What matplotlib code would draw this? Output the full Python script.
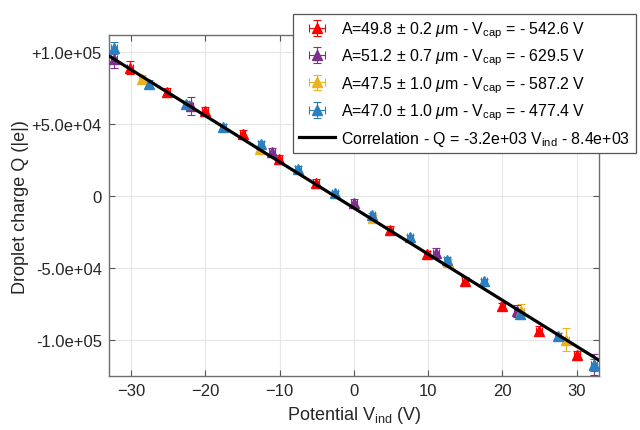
import matplotlib
matplotlib.use("Agg")
import matplotlib.pyplot as plt
import numpy as np

plt.rcParams['font.family'] = ['Liberation Sans', 'DejaVu Sans']
plt.rcParams['mathtext.fontset'] = 'custom'
plt.rcParams['mathtext.rm'] = 'Liberation Sans'
plt.rcParams['mathtext.it'] = 'Liberation Sans:italic'

# --- data ---
red_v = [-30.1, -25.1, -20.0, -15.0, -10.1, -5.1, 4.9, 9.8, 14.9, 20.0, 24.9, 30.0]
red_q = [89000, 72300, 59000, 43000, 25900, 9000, -23700, -40400, -58700, -76500, -93500, -110400]
red_err = [4500, 2500, 2500, 2500, 2500, 2500, 2500, 2500, 2500, 2500, 3000, 3000]

pur_v = [-32.3, -22.0, -11.0, 0.0, 11.0, 22.0, 32.3]
pur_q = [94700, 62400, 30500, -5000, -39700, -79700, -117000]
pur_err = [6000, 6000, 2500, 3000, 3500, 4000, 7500]

yel_v = [-28.5, -12.7, 2.6, 12.7, 22.5, 28.5]
yel_q = [81400, 32800, -15000, -45500, -80100, -99800]
yel_err = [2500, 2000, 2000, 2000, 5000, 8000]

blu_v = [-32.3, -27.6, -22.6, -17.6, -12.5, -7.5, -2.5, 2.5, 7.5, 12.5, 17.5, 22.3, 27.5, 32.3]
blu_q = [102800, 77900, 63500, 48100, 35800, 19000, 1700, -13500, -28800, -44300, -59300,
         -82000, -97400, -117300]
blu_err = [4000, 2500, 2500, 2000, 2000, 2000, 2000, 2000, 2000, 2000, 2000, 3000, 2500, 4000]

x_err = 0.4  # horizontal error bar half-width (V)

fit_slope = -3.2e3
fit_icept = -8.4e3

labels = [
    r'A=49.8 ± 0.2 $\mu$m - V$_{\rm cap}$ = - 542.6 V',
    r'A=51.2 ± 0.7 $\mu$m - V$_{\rm cap}$ = - 629.5 V',
    r'A=47.5 ± 1.0 $\mu$m - V$_{\rm cap}$ = - 587.2 V',
    r'A=47.0 ± 1.0 $\mu$m - V$_{\rm cap}$ = - 477.4 V',
]
fit_label = r'Correlation - Q = -3.2e+03 V$_{\rm ind}$ - 8.4e+03'

colors = ['#ff0000', '#7e2f8e', '#edb120', '#2a7fc0']

yticks = [-1e5, -5e4, 0, 5e4, 1e5]
ytick_labels = ['-1.0e+05', '-5.0e+04', '0', '+5.0e+04', '+1.0e+05']
xticks = [-30, -20, -10, 0, 10, 20, 30]

fig = plt.figure(figsize=(6.4, 4.31), dpi=100)
ax = fig.add_axes([0.170, 0.125, 0.766, 0.791])

handles = []
series = [(red_v, red_q, red_err), (pur_v, pur_q, pur_err),
          (yel_v, yel_q, yel_err), (blu_v, blu_q, blu_err)]
for (v, q, e), c, lab in zip(series, colors, labels):
    h = ax.errorbar(v, q, yerr=e, xerr=x_err, fmt='^', color=c, ms=6.5,
                    elinewidth=0.8, capsize=3, capthick=0.8, label=lab, zorder=3)
    handles.append(h)

xfit = np.array([-34, 34])
line, = ax.plot(xfit, fit_slope * xfit + fit_icept, color='black', lw=2.3,
                label=fit_label, zorder=4)
handles.append(line)

ax.set_xlim(-33.0, 33.0)
ax.set_ylim(-1.25e5, 1.115e5)
ax.set_xticks(xticks)
ax.set_yticks(yticks)
ax.set_yticklabels(ytick_labels)
ax.tick_params(direction='in', top=True, right=True, labelsize=12,
               color='#555555', labelcolor='#262626', length=4, pad=5)
for s in ax.spines.values():
    s.set_color('#6e6e6e')
    s.set_linewidth(1.0)
ax.grid(True, color='#e6e6e6', lw=0.8)
ax.set_axisbelow(True)

ax.set_xlabel(r'Potential V$_{\rm ind}$ (V)', fontsize=13, color='#262626')
ax.set_ylabel('Droplet charge Q (|e|)', fontsize=13, color='#262626', labelpad=2)

leg = fig.legend(handles=handles, loc='upper left', bbox_to_anchor=(0.458, 0.965),
                 fontsize=11.4, frameon=True, fancybox=False, framealpha=1,
                 edgecolor='#555555', borderpad=0.35, labelspacing=0.42,
                 handlelength=2.3, handletextpad=0.4, borderaxespad=0)
leg.get_frame().set_linewidth(0.9)

fig.savefig('out.png', dpi=100)
